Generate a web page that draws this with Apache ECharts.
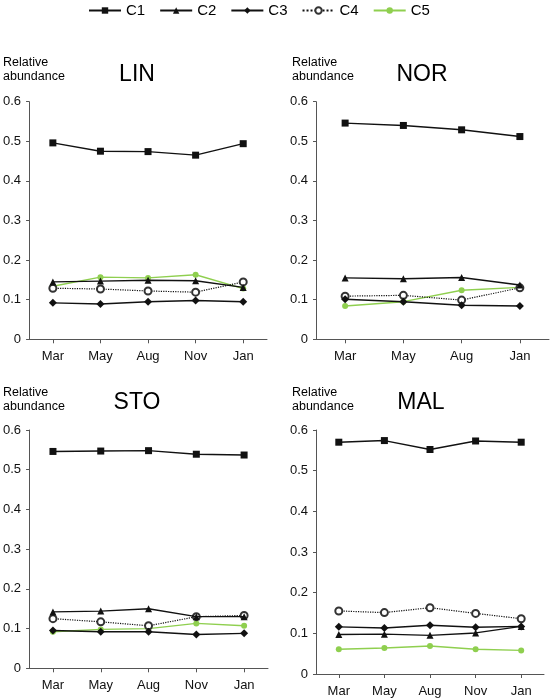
<!DOCTYPE html>
<html>
<head>
<meta charset="utf-8">
<script src="https://cdn.jsdelivr.net/npm/echarts@6/dist/echarts.min.js"></script>
<style>
html,body{margin:0;padding:0;background:#fff;}
#chart{width:551px;height:700px;}
</style>
</head>
<body>
<div id="chart"></div>
<script>
// ---- Data ----
const seriesNames = ['C1', 'C2', 'C3', 'C4', 'C5'];
const yTicks = [0, 0.1, 0.2, 0.3, 0.4, 0.5, 0.6];

const linMonths = ['Mar', 'May', 'Aug', 'Nov', 'Jan'];
const linC1 = [0.496, 0.475, 0.474, 0.465, 0.494];
const linC2 = [0.145, 0.147, 0.149, 0.148, 0.131];
const linC3 = [0.092, 0.089, 0.095, 0.098, 0.095];
const linC4 = [0.129, 0.127, 0.122, 0.119, 0.145];
const linC5 = [0.134, 0.157, 0.155, 0.163, 0.128];

const norMonths = ['Mar', 'May', 'Aug', 'Jan'];
const norC1 = [0.546, 0.540, 0.529, 0.512];
const norC2 = [0.155, 0.153, 0.156, 0.137];
const norC3 = [0.101, 0.095, 0.086, 0.084];
const norC4 = [0.109, 0.111, 0.099, 0.130];
const norC5 = [0.084, 0.095, 0.124, 0.131];

const stoMonths = ['Mar', 'May', 'Aug', 'Nov', 'Jan'];
const stoC1 = [0.546, 0.547, 0.548, 0.539, 0.537];
const stoC2 = [0.142, 0.144, 0.150, 0.130, 0.130];
const stoC3 = [0.095, 0.092, 0.092, 0.085, 0.088];
const stoC4 = [0.125, 0.117, 0.107, 0.130, 0.133];
const stoC5 = [0.092, 0.098, 0.100, 0.113, 0.107];

const malMonths = ['Mar', 'May', 'Aug', 'Nov', 'Jan'];
const malC1 = [0.570, 0.574, 0.552, 0.573, 0.570];
const malC2 = [0.097, 0.098, 0.095, 0.101, 0.117];
const malC3 = [0.116, 0.113, 0.120, 0.115, 0.117];
const malC4 = [0.155, 0.151, 0.163, 0.149, 0.136];
const malC5 = [0.061, 0.064, 0.069, 0.061, 0.058];

const panelNames = ['LIN', 'NOR', 'STO', 'MAL'];
const panelMonths = [linMonths, norMonths, stoMonths, malMonths];
const panelData = [
  [linC1, linC2, linC3, linC4, linC5],
  [norC1, norC2, norC3, norC4, norC5],
  [stoC1, stoC2, stoC3, stoC4, stoC5],
  [malC1, malC2, malC3, malC4, malC5]
];

// ---- Styling / layout ----
const FONT = '"Liberation Sans", Arial, sans-serif';
const BLACK = '#111';
const GREEN = '#8fcf4f';
const AXIS = '#555';

const grids = [
  {left: 27, top: 101.7, width: 240, height: 237.6},
  {left: 316, top: 101.7, width: 233, height: 237.6},
  {left: 27, top: 430, width: 241, height: 238.3},
  {left: 316, top: 430, width: 228, height: 244}
];
const titlePos = [
  {x: 137, y: 63}, {x: 422, y: 63}, {x: 137, y: 391}, {x: 421, y: 391}
];
const ylabPos = [
  {x: 3, y: 56}, {x: 292, y: 56}, {x: 3, y: 385.5}, {x: 292, y: 385.5}
];

const seriesStyle = [
  {symbol: 'rect', symbolSize: 7, color: BLACK, line: 'solid'},
  {symbol: 'triangle', symbolSize: 7, color: BLACK, line: 'solid'},
  {symbol: 'diamond', symbolSize: 8, color: BLACK, line: 'solid'},
  {symbol: 'emptyCircle', symbolSize: 7, color: BLACK, line: 'dotted'},
  {symbol: 'circle', symbolSize: 6, color: GREEN, line: 'solid'}
];

const xAxes = [], yAxes = [], series = [], titles = [];
panelNames.forEach((name, p) => {
  xAxes.push({
    type: 'category', gridIndex: p, data: panelMonths[p], boundaryGap: true,
    axisLine: {lineStyle: {color: AXIS, width: 1}},
    axisTick: {show: true, alignWithLabel: true, length: 4, lineStyle: {color: AXIS}},
    axisLabel: {color: '#111', fontSize: 13, fontFamily: FONT, margin: 11},
    splitLine: {show: false}
  });
  yAxes.push({
    type: 'value', gridIndex: p, min: yTicks[0], max: yTicks[yTicks.length - 1], interval: 0.1,
    axisLine: {show: true, lineStyle: {color: AXIS, width: 1}},
    axisTick: {show: true, length: 3, lineStyle: {color: AXIS}},
    axisLabel: {color: '#111', fontSize: 13, fontFamily: FONT, margin: 8,
      formatter: v => String(Math.round(v * 10) / 10)},
    splitLine: {show: false}
  });
  seriesNames.forEach((sn, i) => {
    const st = seriesStyle[i];
    const item = i === 3
      ? {color: '#333', borderColor: '#333', borderWidth: 0.7}
      : {color: st.color};
    series.push({
      name: sn, type: 'line', xAxisIndex: p, yAxisIndex: p,
      data: panelData[p][i],
      symbol: st.symbol, symbolSize: st.symbolSize, showAllSymbol: true,
      lineStyle: {color: st.color, width: i === 3 ? 1.2 : 1.4, type: st.line},
      itemStyle: item,
      z: 10 - i,
      animation: false
    });
  });
  titles.push({
    text: name, left: titlePos[p].x, top: titlePos[p].y, textAlign: 'center', padding: 0,
    textStyle: {fontSize: 23, fontWeight: 'normal', color: '#000', fontFamily: FONT}
  });
  titles.push({
    text: 'Relative\nabundance', left: ylabPos[p].x, top: ylabPos[p].y, padding: 0,
    textStyle: {fontSize: 12.5, fontWeight: 'normal', color: '#000', fontFamily: FONT, lineHeight: 14}
  });
});

const chart = echarts.init(document.getElementById('chart'), null, {renderer: 'canvas'});
chart.setOption({
  backgroundColor: '#fff',
  animation: false,
  title: titles,
  legend: {
    data: seriesNames, top: 3, left: 88, padding: 0,
    itemWidth: 32, itemHeight: 8, itemGap: 14,
    textStyle: {fontSize: 15, color: '#000', fontFamily: FONT},
    selectedMode: false
  },
  grid: grids,
  xAxis: xAxes,
  yAxis: yAxes,
  series: series
});
</script>
</body>
</html>
